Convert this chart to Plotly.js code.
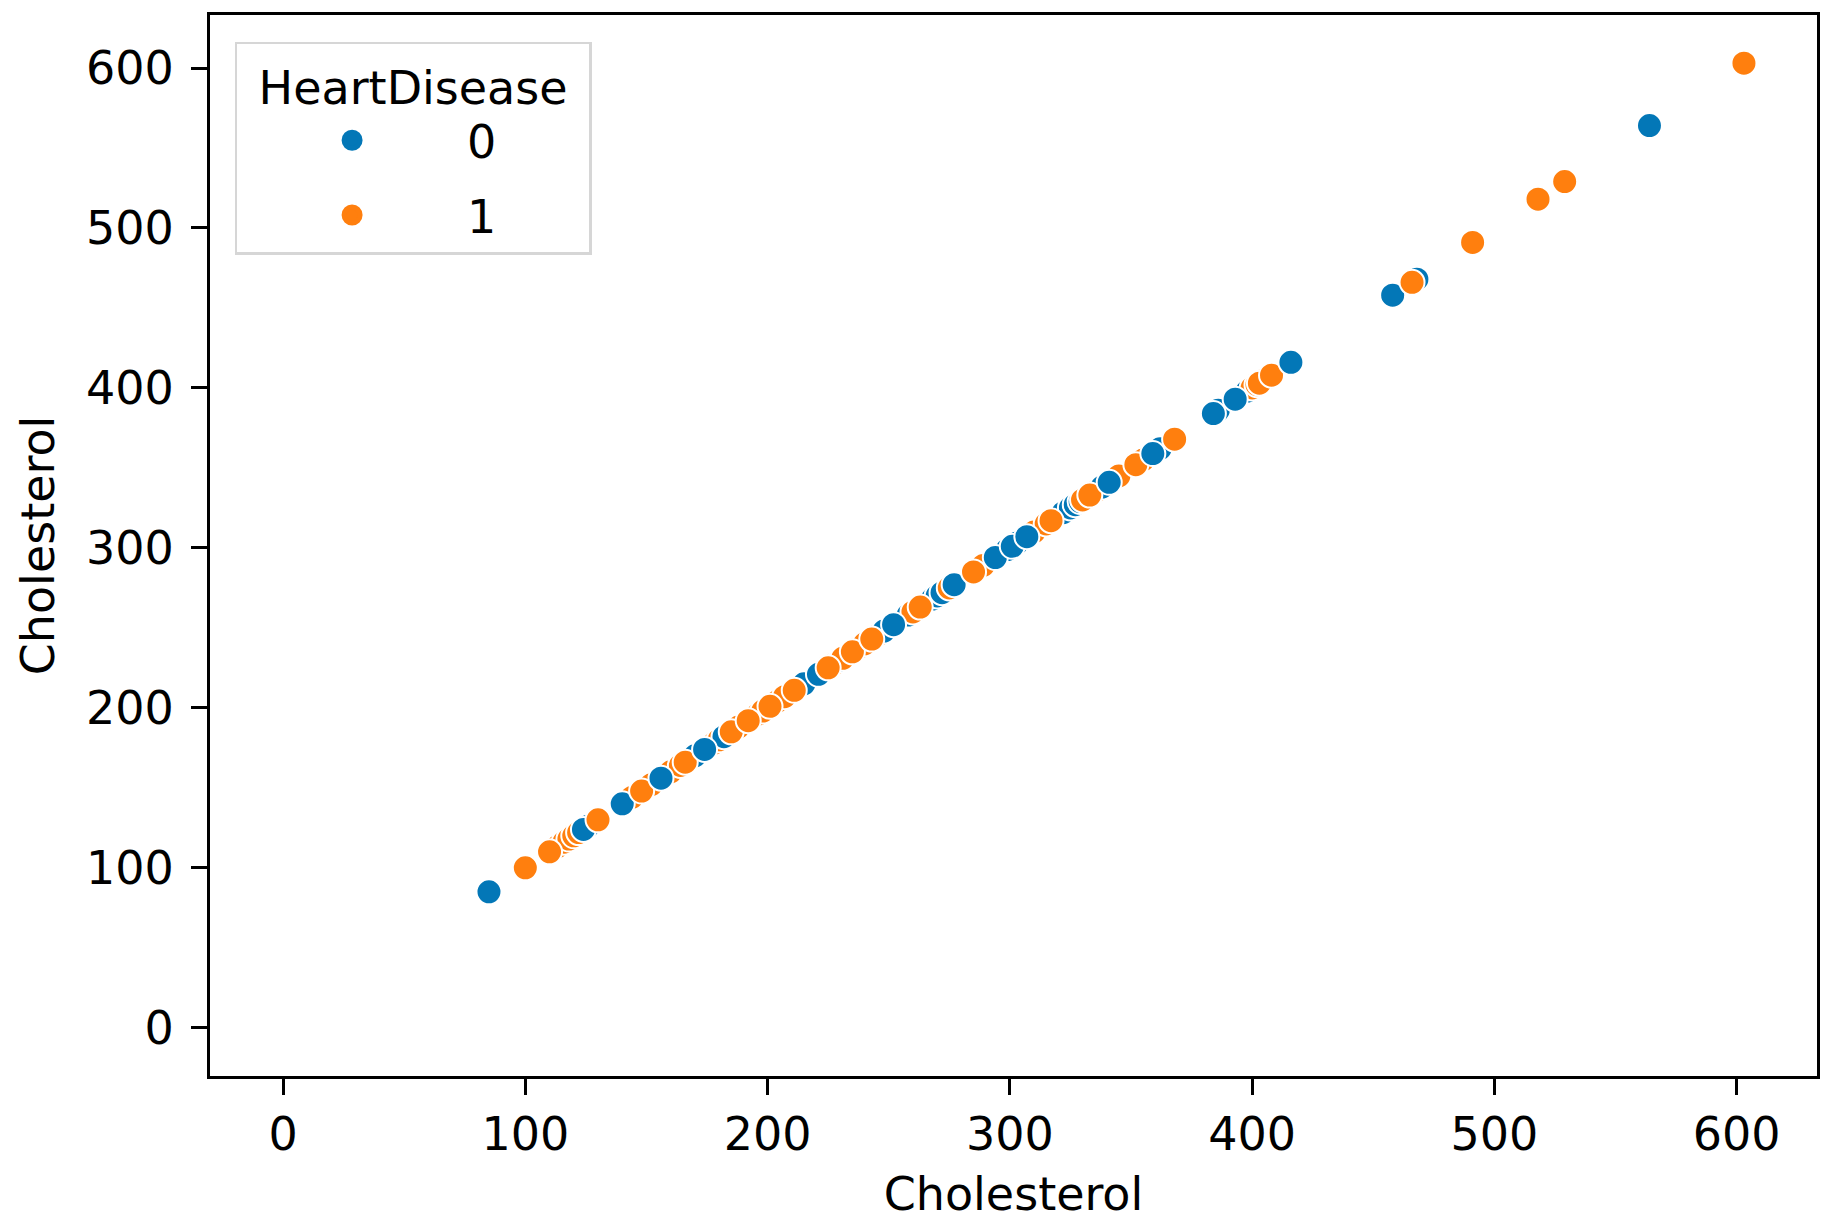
<!DOCTYPE html>
<html>
<head>
<meta charset="utf-8">
<script src="https://cdn.plot.ly/plotly-3.0.1.min.js"></script>
<style>html,body{margin:0;padding:0;background:#fff;}#chart{width:1834px;height:1227px;}</style>
</head>
<body>
<div id="chart"></div>
<script>
// Cholesterol values (plotted against themselves) in drawing order, with class labels
const cholesterol = [
  // partially hidden points (drawn first)
  113,116,118,120,122,126,144,152,160,164,168,170,178,180,182,188,196,198,204,207,
  215,228,230,231,238,240,246,248,258,260,268,270,272,275,289,299,303,310,315,322,
  325,327,329,330,336,338,345,355,362,386,398,400,402,405,
  // clearly visible points (drawn last)
  85,100,110,124,130,140,148,156,166,174,185,192,201,211,221,225,235,243,252,263,
  277,285,294,301,307,317,333,341,352,359,368,384,393,403,408,416,458,468,466,491,
  518,529,564,603
];
const heartDisease = [
  1,1,1,1,1,0,1,1,1,1,1,0,1,1,0,1,1,1,1,1,
  0,1,0,1,1,1,1,0,0,1,0,0,0,1,1,0,0,1,1,0,
  0,0,0,1,1,0,1,1,0,0,0,1,1,1,
  0,1,1,0,1,0,1,0,1,0,1,1,1,1,0,1,1,1,0,1,
  0,1,0,0,0,1,1,0,1,0,1,0,0,1,1,0,0,0,1,1,
  1,1,0,1
];
const classNames = ['0', '1'];
const legendTitle = 'HeartDisease';
const axisLabel = 'Cholesterol';
const tickValues = [0, 100, 200, 300, 400, 500, 600];

const palette = ['#0377b7', '#ff7f0e'];
const font = 'DejaVu Sans, Verdana, sans-serif';

const traces = [{
  type: 'scatter', mode: 'markers',
  x: cholesterol, y: cholesterol,
  showlegend: false,
  marker: {size: 25, color: heartDisease.map(v => palette[v]), line: {color: '#ffffff', width: 2}},
  hoverinfo: 'x+y'
}];
classNames.forEach((n, i) => {
  traces.push({
    type: 'scatter', mode: 'markers', x: [null], y: [null],
    name: n + '\u00a0'.repeat(6),
    legendgroup: 'g' + i,
    marker: {size: 25, color: palette[i], line: {color: palette[i], width: 5}}
  });
});

const axisCommon = {
  range: [-30.15, 633.15],
  tickvals: tickValues,
  ticks: 'outside', ticklen: 16, tickwidth: 3, tickcolor: '#000',
  showline: true, linecolor: '#000', linewidth: 3, mirror: true,
  showgrid: false, zeroline: false,
  tickfont: {family: font, size: 46, color: '#000'},
  title: {text: axisLabel, font: {family: font, size: 46, color: '#000'}}
};

const layout = {
  width: 1834, height: 1227,
  margin: {l: 210, r: 17, t: 15, b: 151},
  paper_bgcolor: '#fff', plot_bgcolor: '#fff',
  font: {family: font, color: '#000'},
  xaxis: Object.assign({}, axisCommon, {ticklabelstandoff: 0, title: Object.assign({}, axisCommon.title, {standoff: 18})}),
  yaxis: Object.assign({}, axisCommon, {ticklabelstandoff: 8, title: Object.assign({}, axisCommon.title, {standoff: 17})}),
  legend: {
    x: 0.0153, y: 0.975, xanchor: 'left', yanchor: 'top',
    bgcolor: 'rgba(255,255,255,0.8)', bordercolor: '#d6d6d6', borderwidth: 2.5,
    font: {family: font, size: 46, color: '#000'},
    title: {text: legendTitle, side: 'top center', font: {family: font, size: 46, color: '#000'}},
    itemsizing: 'trace', itemwidth: 220, tracegroupgap: 12
  },
  showlegend: true
};

Plotly.newPlot('chart', traces, layout, {displayModeBar: false, staticPlot: true});
</script>
</body>
</html>
